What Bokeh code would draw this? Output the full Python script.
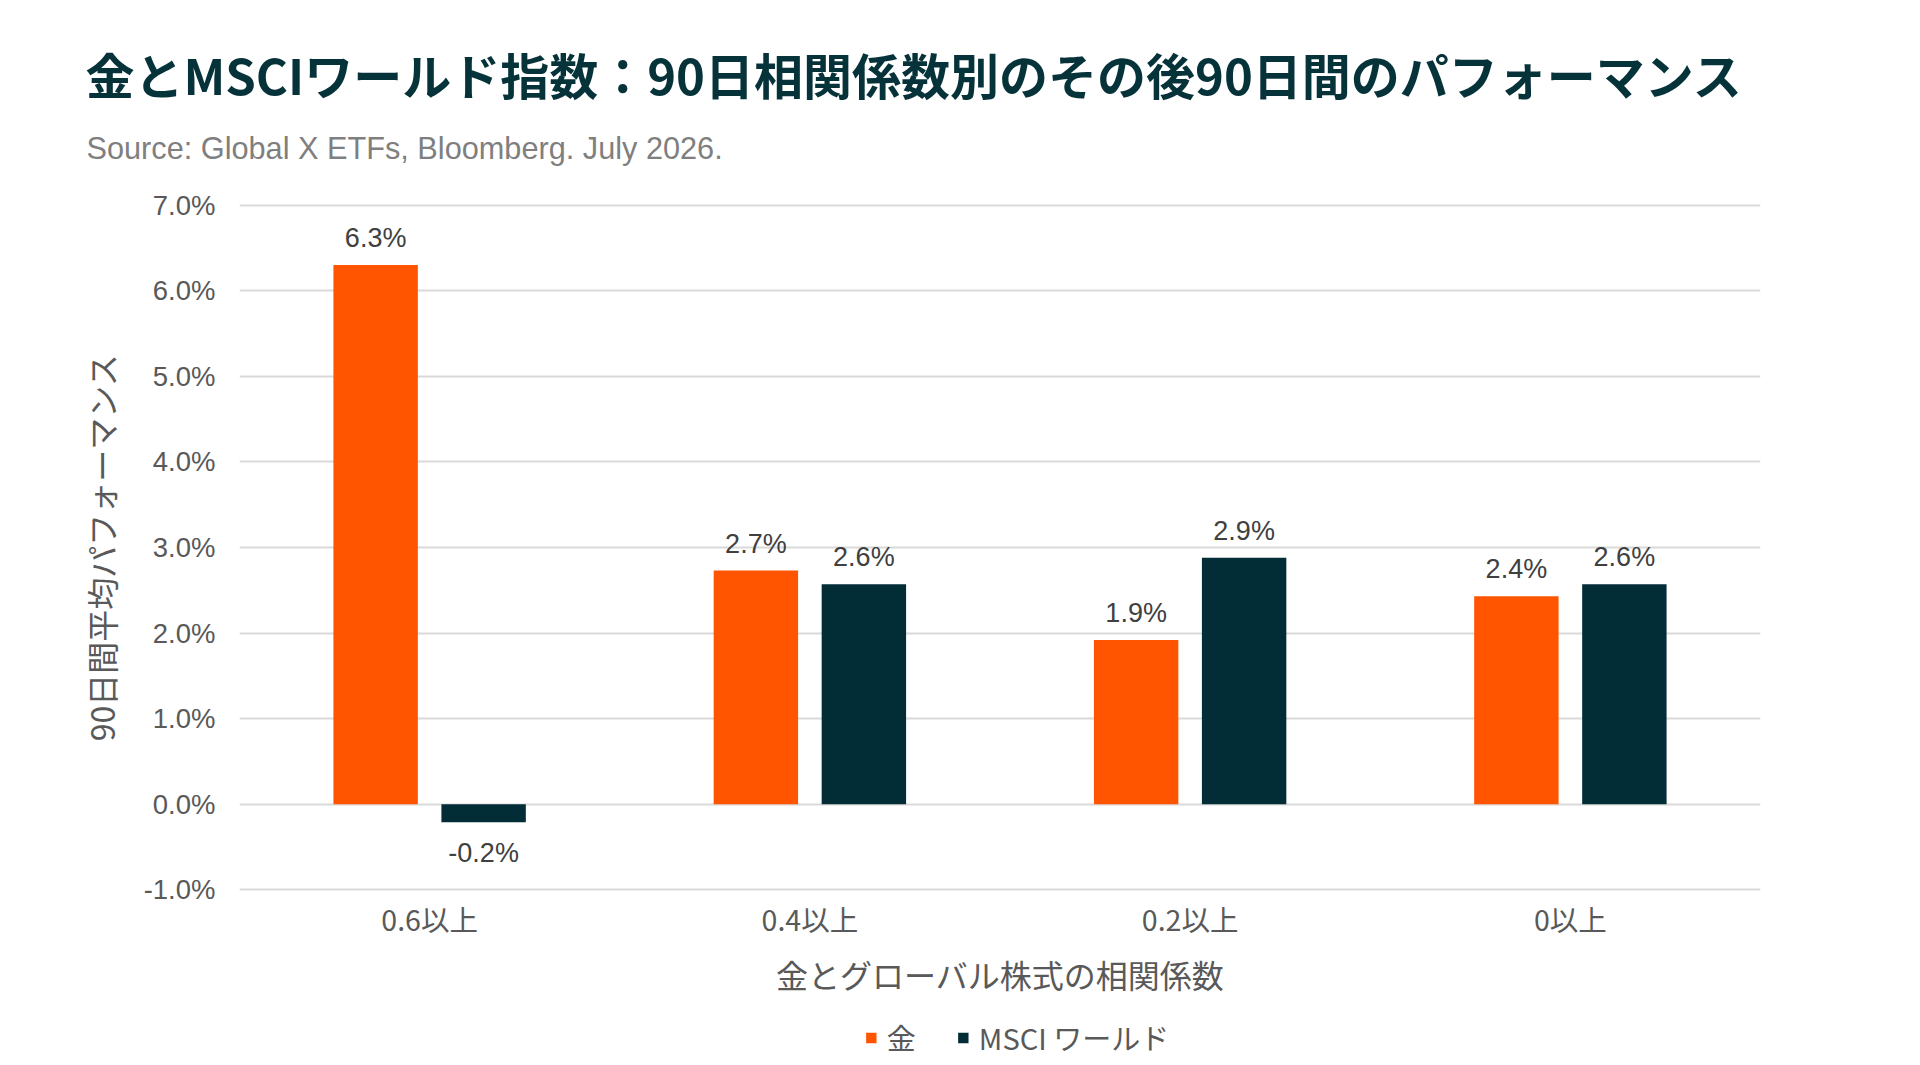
from bokeh.plotting import figure
from bokeh.layouts import column
from bokeh.models import (ColumnDataSource, FactorRange, Range1d, FixedTicker,
                          PrintfTickFormatter, Legend, LegendItem)
from bokeh.transform import dodge
from bokeh.core.properties import value
from bokeh.embed import file_html
from bokeh.resources import INLINE

# ---- data ----
categories = ["0.6以上", "0.4以上", "0.2以上", "0以上"]
gold = [6.30, 2.73, 1.92, 2.43]
msci = [-0.21, 2.57, 2.88, 2.57]
series_names = ["金", "MSCI ワールド"]
y_ticks = [-1, 0, 1, 2, 3, 4, 5, 6, 7]

title_text = "金とMSCIワールド指数：90日相関係数別のその後90日間のパフォーマンス"
subtitle_text = "Source: Global X ETFs, Bloomberg. July 2026."
x_title = "金とグローバル株式の相関係数"
y_title = "90日間平均パフォーマンス"

ORANGE = "#FF5500"
DARK = "#022D36"
TITLE_C = "#063239"
GREY = "#595959"

def lbl(vals):
    return [f"{v:.1f}%" for v in vals]

def yoff(vals):
    return [-27 if v >= 0 else 31 for v in vals]

src = ColumnDataSource(dict(
    cat=categories, gold=gold, msci=msci,
    gold_lbl=lbl(gold), msci_lbl=lbl(msci),
    gold_off=yoff(gold), msci_off=yoff(msci),
))

W = 1904
HT, H1, H2 = 175, 838, 44

def strip(height, left=0, top=0, xr=None, yr=None):
    f = figure(width=W, height=height, output_backend="svg", toolbar_location=None,
               x_range=xr, y_range=yr,
               min_border_left=left, min_border_right=0,
               min_border_top=top, min_border_bottom=0,
               background_fill_color="white", border_fill_color="white")
    f.outline_line_color = None
    f.axis.visible = False
    f.grid.visible = False
    if hasattr(f, "frame_align"):
        f.frame_align = False
    return f

# ---- heading strip (pixel coordinates, y downwards) ----
t = strip(HT, xr=Range1d(0, W), yr=Range1d(HT, 0))
t.text(x=[85], y=[73], text=[title_text], text_align="left",
       text_baseline="alphabetic", text_font=value("Noto Sans CJK JP"),
       text_font_size="49px", text_font_style="bold", text_color=TITLE_C)
t.text(x=[86], y=[148], text=[subtitle_text], text_align="left",
       text_baseline="alphabetic", text_font=value("Liberation Sans"),
       text_font_size="30.7px", text_color="#7f7f7f")

# ---- main chart ----
p = figure(x_range=FactorRange(*categories), y_range=Range1d(-1.02, 7.02),
           width=W, height=H1, output_backend="svg", toolbar_location=None,
           min_border_left=239, min_border_right=144,
           min_border_top=203 - HT, min_border_bottom=122,
           background_fill_color="white", border_fill_color="white")
p.outline_line_color = None

OFF = 0.142
BW = 0.222
r1 = p.vbar(x=dodge("cat", -OFF, range=p.x_range), top="gold", bottom=0,
            width=BW, fill_color=ORANGE, line_color=None, source=src)
r2 = p.vbar(x=dodge("cat", OFF, range=p.x_range), top="msci", bottom=0,
            width=BW, fill_color=DARK, line_color=None, source=src)

for xo, col, txt, off in [(-OFF, "gold", "gold_lbl", "gold_off"),
                          (OFF, "msci", "msci_lbl", "msci_off")]:
    p.text(x=dodge("cat", xo, range=p.x_range), y=col, text=txt, y_offset=off,
           text_align="center", text_baseline="alphabetic",
           text_font=value("Liberation Sans"), text_font_size="27px",
           text_color="#404040", source=src)

for ax in (p.xaxis, p.yaxis):
    ax.axis_line_color = None
    ax.major_tick_line_color = None
    ax.minor_tick_line_color = None
    ax.major_tick_out = 0
    ax.major_tick_in = 0
    ax.minor_tick_out = 0
    ax.minor_tick_in = 0

p.xaxis.major_label_text_font = "Noto Sans CJK JP"
p.xaxis.major_label_text_font_size = "28.5px"
p.xaxis.major_label_text_color = GREY
p.xaxis.major_label_standoff = 6
p.xaxis.axis_label = x_title
p.xaxis.axis_label_text_font = "Noto Sans CJK JP"
p.xaxis.axis_label_text_font_size = "32px"
p.xaxis.axis_label_text_font_style = "normal"
p.xaxis.axis_label_text_color = GREY
p.xaxis.axis_label_standoff = 9

p.yaxis.ticker = FixedTicker(ticks=y_ticks)
p.yaxis.formatter = PrintfTickFormatter(format="%.1f%%")
p.yaxis.major_label_text_font = "Liberation Sans"
p.yaxis.major_label_text_font_size = "27.5px"
p.yaxis.major_label_text_color = GREY
p.yaxis.major_label_standoff = 24
p.yaxis.axis_label = y_title
p.yaxis.axis_label_text_font = "Noto Sans CJK JP"
p.yaxis.axis_label_text_font_size = "32px"
p.yaxis.axis_label_text_font_style = "normal"
p.yaxis.axis_label_text_color = GREY
p.yaxis.axis_label_standoff = 17

p.xgrid.grid_line_color = None
p.ygrid.ticker = FixedTicker(ticks=y_ticks)
p.ygrid.grid_line_color = "#d9d9d9"
p.ygrid.grid_line_width = 2

# ---- legend strip ----
q = strip(H2, left=129, top=4, xr=Range1d(0, 1), yr=Range1d(0, 1))
# legend keys (their single point lies outside the visible range)
k1 = q.vbar(x=[5], top=[5], bottom=[4], width=0.1, fill_color=ORANGE, line_color=None)
k2 = q.vbar(x=[5], top=[5], bottom=[4], width=0.1, fill_color=DARK, line_color=None)
legend = Legend(items=[LegendItem(label=series_names[0], renderers=[k1]),
                       LegendItem(label=series_names[1], renderers=[k2])],
                orientation="horizontal", location="center",
                glyph_width=13, glyph_height=13, label_standoff=10, spacing=40,
                label_text_font="Noto Sans CJK JP", label_text_font_size="29px",
                label_text_color=GREY, border_line_color=None,
                background_fill_alpha=0, margin=0, padding=0)
q.add_layout(legend, "center")

layout = column(t, p, q, spacing=0)
open("out.html", "w").write(file_html(layout, INLINE))
